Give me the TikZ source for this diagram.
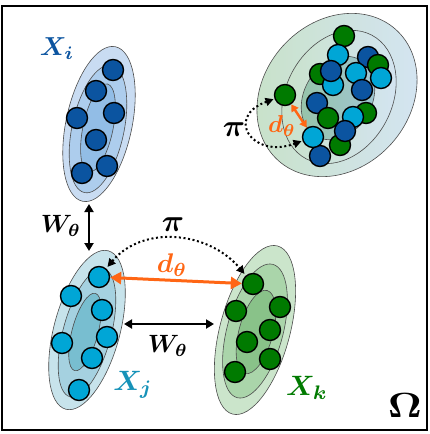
\RequirePackage{fix-cm}
\documentclass[tikz,border=0pt]{standalone}
\usepackage{amsmath,bm}
\usepackage{tikz}
\usetikzlibrary{arrows.meta}
\definecolor{dkblue}{RGB}{11,84,160}
\definecolor{skyblue}{RGB}{0,166,214}
\definecolor{leaf}{RGB}{0,122,0}
\definecolor{tang}{RGB}{255,102,20}
\definecolor{teal2}{RGB}{22,146,184}
\definecolor{iout}{RGB}{201,220,242}
\definecolor{imid}{RGB}{173,205,237}
\definecolor{iin}{RGB}{146,189,230}
\definecolor{jout}{RGB}{199,227,235}
\definecolor{jmid}{RGB}{165,209,224}
\definecolor{jin}{RGB}{120,190,208}
\definecolor{kout}{RGB}{203,229,203}
\definecolor{kmid}{RGB}{170,213,170}
\definecolor{kin}{RGB}{137,194,137}
\definecolor{mgreen}{RGB}{200,226,200}
\definecolor{mblue}{RGB}{212,228,243}
\definecolor{mgreen2}{RGB}{150,196,168}
\definecolor{mblue2}{RGB}{160,198,212}

\begin{document}
\begin{tikzpicture}[x=1pt,y=-1pt,
  dot/.style={circle,draw=black,line width=1.4pt,minimum size=21pt,inner sep=0pt},
  ring/.style={draw=black!70,line width=0.6pt},
  warrow/.style={{Triangle[length=8pt,width=9pt]}-{Triangle[length=8pt,width=9pt]},line width=2.6pt},
  darrow/.style={{Triangle[length=11pt,width=12pt]}-{Triangle[length=11pt,width=12pt]},tang,line width=3pt},
  piarrow/.style={{Triangle[length=8pt,width=8pt]}-{Triangle[length=8pt,width=8pt]},line width=2pt,dash pattern=on 2pt off 2.6pt},
  lab/.style={font=\fontsize{10}{12}\selectfont,inner sep=0pt}]
\useasboundingbox (0,0) rectangle (429,434);
\draw [line width=2pt] (1.5,6) rectangle (427,430);

% clusters
\draw [ring,fill=iout,rotate around={-12:(99,124)}] (99,124) ellipse (33 and 79);
\draw [ring,fill=imid,rotate around={-12:(98,129)}] (98,129) ellipse (26 and 65);
\draw [ring,fill=iin,rotate around={-12:(98,128)}] (98,128) ellipse (15 and 45);
\draw [ring,fill=jout,rotate around={-15:(87,330)}] (87,330) ellipse (33 and 82);
\draw [ring,fill=jmid,rotate around={-15:(87,333)}] (87,333) ellipse (24 and 66);
\draw [ring,fill=jin,rotate around={-15:(85,332)}] (85,332) ellipse (13 and 40);
\draw [ring,fill=kout,rotate around={-15:(255,330)}] (255,330) ellipse (35 and 87);
\draw [ring,fill=kmid,rotate around={-15:(255,331)}] (255,331) ellipse (28 and 69);
\draw [ring,fill=kin,rotate around={-15:(256,332)}] (256,332) ellipse (17 and 43);
\draw [ring,left color=mgreen,right color=mblue,rotate around={48:(337,95)}] (337,95) ellipse (88 and 73);
\draw [ring,left color=mgreen,right color=mblue,rotate around={62:(339,97)}] (339,97) ellipse (70 and 53);
\draw [ring,left color=mgreen2,right color=mblue2,rotate around={60:(338,98)}] (338,98) ellipse (44 and 34);

\foreach \x/\y [count=\n] in {113/70,96/91,77/118,114/113,96/140,82/173,107/166}
  \node [dot,fill=dkblue] (i\n) at (\x,\y) {};
\foreach \x/\y [count=\n] in {99/277,71/296,102/310,62/343,107/337,92/358,79/390}
  \node [dot,fill=skyblue] (j\n) at (\x,\y) {};
\foreach \x/\y [count=\n] in {253/284,236/311,280/307,270/330,247/342,270/359,235/372}
  \node [dot,fill=leaf] (k\n) at (\x,\y) {};
\foreach \c/\x/\y [count=\n] in {leaf/344/36,skyblue/338/55,dkblue/368/57,leaf/378/65,skyblue/381/78,
  leaf/320/74,skyblue/333/85,dkblue/331/71,skyblue/356/73,dkblue/362/90,dkblue/317/103,
  leaf/366/113,skyblue/353/117,leaf/328/118,leaf/340/145,dkblue/345/131,dkblue/320/156}
  \node [dot,fill=\c] (m\n) at (\x,\y) {};
\node [dot,fill=leaf] (mg) at (285,95) {};
\node [dot,fill=skyblue] (ml) at (313,137) {};

% connectors
\coordinate (ibot) at (89,204);
\coordinate (jtop) at (89,251);
\coordinate (jside) at (124,324);
\coordinate (kside) at (214,324);
\draw [warrow] (ibot) -- (jtop);
\draw [warrow] (jside) -- (kside);
\draw [darrow] (j1) -- (k1);
\draw [piarrow,shorten <=2pt,shorten >=2pt] (j1) to[out=50,in=130,looseness=1.05] (k1);
\draw [darrow,line width=2.4pt,{Triangle[length=7pt,width=8pt]}-{Triangle[length=7pt,width=8pt]}] (mg) -- (ml);
\draw [piarrow,shorten <=1pt,shorten >=1pt] (mg) to[out=200,in=200,looseness=2.7] (ml);

% labels
\node [lab,text=dkblue,scale=2.6] (li) at (57,49) {$\bm{X_i}$};
\node [lab,text=teal2,scale=2.8] (lj) at (133,385) {$\bm{X_j}$};
\node [lab,text=leaf,scale=2.8] (lk) at (307,388) {$\bm{X_k}$};
\node [lab,scale=2.5] (lw1) at (61,226) {$\bm{W_\theta}$};
\node [lab,scale=2.5] (lw2) at (168,346) {$\bm{W_\theta}$};
\node [lab,scale=3.1] (lp1) at (173,225) {$\bm{\pi}$};
\node [lab,scale=3.1] (lp2) at (234,130) {$\bm{\pi}$};
\node [lab,text=tang,scale=2.7] (ld1) at (172,265) {$\bm{d_\theta}$};
\node [lab,text=tang,scale=2.45] (ld2) at (282,126) {$\bm{d_\theta}$};
\node [lab,xscale=4.1,yscale=3.5] (lo) at (405,405) {$\bm{\Omega}$};
\end{tikzpicture}
\end{document}
